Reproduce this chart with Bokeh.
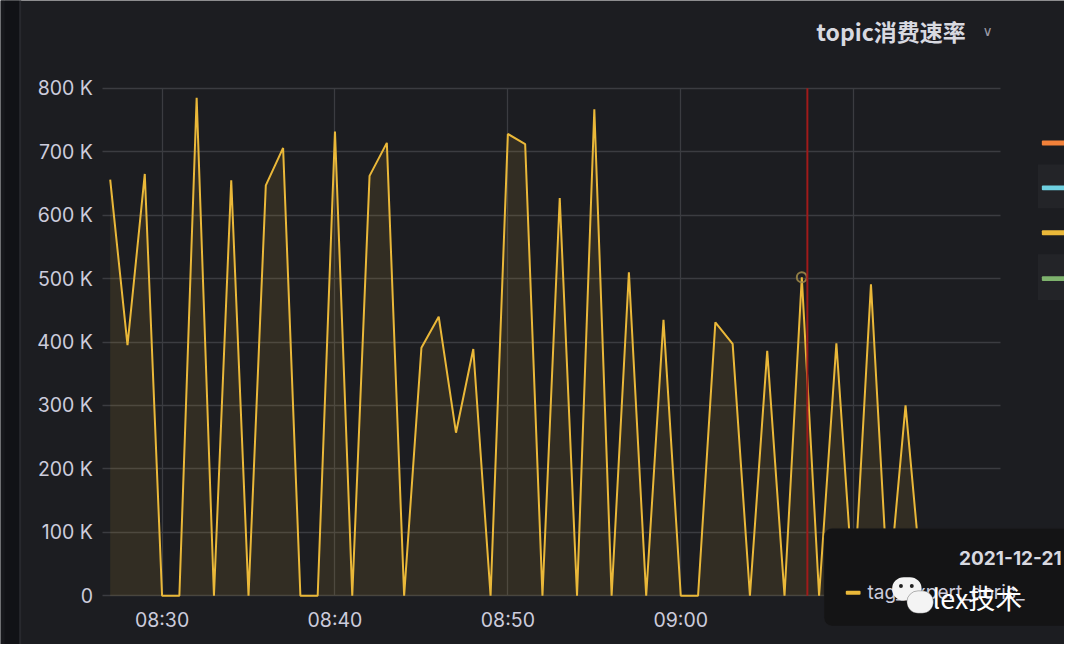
import pandas as pd
from bokeh.plotting import figure
from bokeh.models import (BoxAnnotation, Label, FixedTicker, Range1d,
                          DatetimeTickFormatter, ColumnDataSource)
from bokeh.embed import file_html
from bokeh.resources import INLINE

DAY = "2021-12-21 "
times = ["08:27", "08:28", "08:29", "08:30", "08:31", "08:32", "08:33", "08:34",
         "08:35", "08:36", "08:37", "08:38", "08:39", "08:40", "08:41", "08:42",
         "08:43", "08:44", "08:45", "08:46", "08:47", "08:48", "08:49", "08:50",
         "08:51", "08:52", "08:53", "08:54", "08:55", "08:56", "08:57", "08:58",
         "08:59", "09:00", "09:01", "09:02", "09:03", "09:04", "09:05", "09:06",
         "09:07", "09:08", "09:09", "09:10", "09:11", "09:12", "09:13", "09:14"]
rate = [656000, 395000, 665000, 0, 0, 785000, 0, 655000,
        0, 647000, 706000, 0, 0, 732000, 0, 662000,
        714000, 0, 391000, 440000, 257000, 389000, 0, 728000,
        712000, 0, 627000, 0, 767000, 0, 510000, 0,
        435000, 0, 0, 431000, 397000, 0, 386000, 0,
        502000, 0, 398000, 0, 491000, 0, 300000, 0]
y_ticks = [0, 100000, 200000, 300000, 400000, 500000, 600000, 700000, 800000]
y_tick_labels = ["0", "100 K", "200 K", "300 K", "400 K", "500 K", "600 K", "700 K", "800 K"]
x_grid_ticks = ["08:30", "08:40", "08:50", "09:00", "09:10"]
x_label_ticks = ["08:30", "08:40", "08:50", "09:00"]  # 09:10 label is hidden by the tooltip
hover_time = "09:07:17"
hover_point = ("09:07", 502000)
title_text = "topic消费速率"
tooltip_date = "2021-12-21"
tooltip_series = "tag_expert_doris_"
watermark = "lex技术"
legend_colors = ["#f2813a", "#6ed0e0", "#eab839", "#7eb26d"]

LINE = "#eab839"
BG = "#1c1d21"
TXT = "#ccccdc"
GRID = "#3b3c41"

W, H = 1064, 644


def dt(t):
    return pd.Timestamp(DAY + t)


def ms(t):
    return dt(t).value // 10**6


# mapping of reference-picture pixels to data space (layout only)
def tx(rx):
    return ms("08:30") + (rx - 164) / 17.55 * 60000


def vy(ry):
    return (610 - ry) / 65 * 100000


src = ColumnDataSource(dict(t=[dt(t) for t in times], v=rate))

p = figure(width=W, height=H, x_axis_type="datetime",
           output_backend="svg", toolbar_location=None,
           x_range=Range1d(tx(0), tx(1080)), y_range=Range1d(vy(660), vy(0)),
           min_border=0)
p.background_fill_color = BG
p.border_fill_color = BG
p.outline_line_color = None


def box(x0, y0, x1, y1, color, alpha=1.0, radius=0, lc=None, level="annotation"):
    p.add_layout(BoxAnnotation(left=tx(x0), right=tx(x1), top=vy(y0), bottom=vy(y1),
                               fill_color=color, fill_alpha=alpha, line_color=lc,
                               border_radius=radius, level=level))


def label(x, y, text, size, color=TXT, font="Inter", style="normal", align="left", base="middle"):
    p.add_layout(Label(x=tx(x), y=vy(y), text=text,
                       text_font=font, text_font_size=size, text_color=color,
                       text_font_style=style, text_align=align, text_baseline=base,
                       level="overlay"))


# panel chrome on the left
box(0, -10, 4, 670, "#17181c", level="underlay")
box(4, -10, 19, 670, "#111216", level="underlay")
box(19, -10, 21, 670, "#27282d", level="underlay")

p.varea(x="t", y1=0, y2="v", source=src, fill_color=LINE, fill_alpha=0.11)
p.line(x="t", y="v", source=src, line_color=LINE, line_width=2)

for ax in (p.xaxis[0], p.yaxis[0]):
    ax.axis_line_color = None
    ax.major_tick_line_color = None
    ax.minor_tick_line_color = None
    ax.major_label_text_color = TXT
    ax.major_label_text_font = "Inter"
    ax.major_label_text_font_size = "19.5px"

p.yaxis[0].ticker = FixedTicker(ticks=y_ticks)
p.yaxis[0].major_label_overrides = {v: s for v, s in zip(y_ticks, y_tick_labels)}
p.yaxis[0].major_label_standoff = 4
p.yaxis[0].fixed_location = tx(104)
p.xaxis[0].ticker = FixedTicker(ticks=[ms(t) for t in x_label_ticks])
p.xaxis[0].formatter = DatetimeTickFormatter(minutes="%H:%M", hours="%H:%M", minsec="%H:%M")
p.xaxis[0].major_label_standoff = 6
p.xaxis[0].fixed_location = 0

p.xgrid.ticker = FixedTicker(ticks=[ms(t) for t in x_grid_ticks])
p.xgrid.grid_line_color = GRID
p.ygrid.grid_line_color = GRID
p.xgrid.grid_line_width = 1.3
p.ygrid.grid_line_width = 1.3
p.ygrid.cross_bounds = (tx(104), tx(1015))
p.xgrid.cross_bounds = (vy(610), vy(90))

# cursor line and hover point
box(818, 90, 820, 610, "#a11a1a")
p.scatter([dt(hover_point[0])], [hover_point[1]], size=10, fill_color=None,
          line_color="#9c8748", line_width=2, line_alpha=0.9)

# title + chevron
label(828, 31, title_text, "23px", color="#d8d9e0", font="Noto Sans CJK SC", style="bold")
label(1002, 31, "∨", "14px", color="#9a9aa6", font="DejaVu Sans", align="center")

# legend stubs on the right
box(1053, 168, 1085, 213, "#232428")
box(1053, 260, 1085, 307, "#232428")
for c, yy in zip(legend_colors, [146, 192, 238, 285]):
    box(1057, yy - 2.5, 1085, yy + 2.5, c, radius=1)

# tooltip
box(836, 541, 1095, 641, "#141415", radius=8, lc="#202126", level="overlay")
label(973, 571, tooltip_date, "19px", color="#d8d9e0", style="bold")
box(858, 605, 873, 609, LINE, radius=1, level="overlay")
label(880, 607, tooltip_series, "19px", color=TXT)

# watermark
box(905, 591, 935, 615, "#f4f4f4", radius=13, level="overlay")
box(920, 605, 947, 628, "#f4f4f4", radius=12, lc="#141415", level="overlay")
box(912, 598, 916, 602, "#222222", radius=2, level="overlay")
box(923, 598, 927, 602, "#222222", radius=2, level="overlay")
label(946, 612, watermark, "27px", color="#ffffff", font="Noto Sans CJK SC")

open("out.html", "w").write(file_html(p, INLINE))
